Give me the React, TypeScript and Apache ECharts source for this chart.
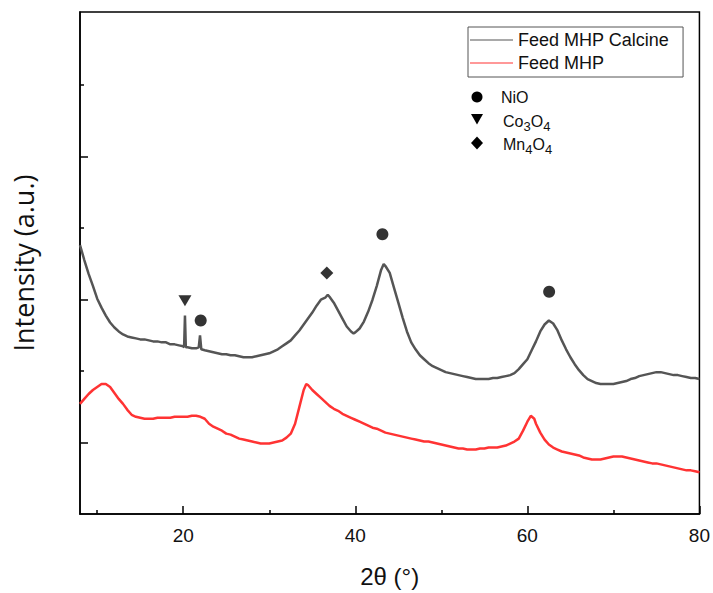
import React, { useEffect, useRef } from "react";
import * as echarts from "echarts";

// tick positions
const xMajorTicks = [20, 40, 60, 80];
const xMinorTicks = [10, 30, 50, 70];
const yMajorTicks = [71.5, 216, 360.5];
const yMinorTicks = [144, 288.5, 433];

// [2θ, intensity (a.u.)]
const calcine: number[][] = [
  [8, 271], [8.5, 256], [9, 242], [9.5, 230], [10, 217], [10.5, 208], [11, 200], [11.5, 193],
  [12, 188], [12.5, 184], [13, 181], [13.5, 179], [14, 178], [14.5, 177], [15, 176], [15.5, 176],
  [16, 175], [16.5, 174], [17, 174], [17.5, 173], [18, 173], [18.5, 171], [19, 171], [19.5, 170],
  [20, 169], [20.1, 168], [20.2, 200], [20.3, 168], [20.5, 168], [21, 167], [21.5, 167], [21.8, 168],
  [21.95, 180], [22.1, 166], [22.5, 165], [23, 164], [23.5, 163], [24, 162], [24.5, 161], [25, 161],
  [25.5, 160], [26, 160], [26.5, 159], [27, 158], [27.5, 158], [28, 158], [28.5, 159], [29, 160],
  [29.5, 161], [30, 162], [30.5, 164], [31, 166], [31.5, 169], [32, 172], [32.5, 175], [33, 180],
  [33.5, 185], [34, 191], [34.5, 197], [35, 203], [35.5, 210], [36, 216], [36.5, 218], [36.8, 221],
  [37, 219], [37.5, 213], [38, 205], [38.5, 197], [39, 189], [39.5, 184], [39.8, 182], [40, 183],
  [40.5, 187], [41, 194], [41.5, 204], [42, 216], [42.5, 230], [43, 246], [43.3, 252], [43.5, 250],
  [44, 243], [44.5, 228], [45, 213], [45.5, 198], [46, 184], [46.5, 173], [47, 166], [47.5, 160],
  [48, 156], [48.5, 152], [49, 149], [49.5, 147], [50, 145], [50.5, 143], [51, 142], [51.5, 141],
  [52, 140], [52.5, 139], [53, 138], [53.5, 137], [54, 136], [54.5, 136], [55, 136], [55.5, 136],
  [56, 137], [56.5, 137], [57, 138], [57.5, 139], [58, 140], [58.5, 142], [59, 146], [59.5, 151],
  [60, 156], [60.5, 165], [61, 174], [61.5, 184], [62, 191], [62.5, 195], [63, 192], [63.5, 185],
  [64, 175], [64.5, 166], [65, 158], [65.5, 151], [66, 145], [66.5, 140], [67, 136], [67.5, 134],
  [68, 132], [68.5, 131], [69, 131], [69.5, 131], [70, 131], [70.5, 132], [71, 133], [71.5, 134],
  [72, 136], [72.5, 137], [73, 139], [73.5, 140], [74, 141], [74.5, 142], [75, 143], [75.5, 143],
  [76, 142], [76.5, 141], [77, 140], [77.5, 140], [78, 139], [78.5, 138], [79, 137], [79.5, 137],
  [80, 136],
];

const feed: number[][] = [
  [8, 111], [8.5, 116], [9, 121], [9.5, 125], [10, 128], [10.5, 131], [11, 131], [11.5, 128],
  [12, 122], [12.5, 116], [13, 111], [13.5, 105], [14, 100], [14.5, 98], [15, 97], [15.5, 96],
  [16, 96], [16.5, 96], [17, 97], [17.5, 97], [18, 97], [18.5, 97], [19, 98], [19.5, 98],
  [20, 98], [20.5, 98], [21, 99], [21.5, 99], [22, 98], [22.5, 96], [23, 91], [23.5, 88],
  [24, 86], [24.5, 84], [25, 81], [25.5, 80], [26, 78], [26.5, 76], [27, 75], [27.5, 74],
  [28, 73], [28.5, 72], [29, 71], [29.5, 71], [30, 71], [30.5, 72], [31, 73], [31.5, 74],
  [32, 77], [32.5, 81], [33, 91], [33.5, 108], [34, 125], [34.3, 131], [34.5, 130], [35, 125],
  [35.5, 121], [36, 117], [36.5, 113], [37, 109], [37.5, 106], [38, 104], [38.5, 101], [39, 99],
  [39.5, 97], [40, 95], [40.5, 93], [41, 91], [41.5, 89], [42, 87], [42.5, 86], [43, 84],
  [43.5, 82], [44, 81], [44.5, 80], [45, 79], [45.5, 78], [46, 77], [46.5, 76], [47, 75],
  [47.5, 74], [48, 73], [48.5, 73], [49, 72], [49.5, 71], [50, 70], [50.5, 69], [51, 68],
  [51.5, 67], [52, 66], [52.5, 66], [53, 65], [53.5, 65], [54, 65], [54.5, 66], [55, 66],
  [55.5, 67], [56, 67], [56.5, 67], [57, 68], [57.5, 69], [58, 71], [58.5, 73], [59, 76],
  [59.5, 84], [60, 93], [60.4, 99], [60.8, 96], [61, 91], [61.5, 82], [62, 75], [62.5, 70],
  [63, 67], [63.5, 65], [64, 63], [64.5, 62], [65, 61], [65.5, 60], [66, 59], [66.5, 57],
  [67, 56], [67.5, 55], [68, 55], [68.5, 55], [69, 56], [69.5, 57], [70, 58], [70.5, 58],
  [71, 58], [71.5, 57], [72, 56], [72.5, 55], [73, 54], [73.5, 53], [74, 52], [74.5, 51],
  [75, 51], [75.5, 50], [76, 49], [76.5, 48], [77, 47], [77.5, 46], [78, 45], [78.5, 44],
  [79, 44], [79.5, 43], [80, 42],
];

// phase markers [2θ, height]
const nioMarks: number[][] = [[22.03, 195], [43.15, 282], [62.53, 224]];
const coMarks: number[][] = [[20.2, 215]];
const mnMarks: number[][] = [[36.69, 243]];

const seriesNames = ["Feed MHP Calcine", "Feed MHP"];

export default function App() {
  const ref = useRef<HTMLDivElement>(null);
  useEffect(() => {
    document.body.style.margin = "0";
    const chart = echarts.init(ref.current!, null, { renderer: "svg" });
    const tickLine = { color: "#000", width: 1.5 };
    chart.setOption({
      animation: false,
      grid: {
        left: 80, right: 13, top: 12, bottom: 75,
        show: true, borderColor: "#000", borderWidth: 1.5,
      },
      legend: {
        data: seriesNames,
        orient: "vertical",
        left: 468, top: 27,
        padding: [3, 14, 4, 2],
        itemGap: 3, itemWidth: 43, itemHeight: 1.2,
        icon: "rect",
        borderColor: "#555", borderWidth: 1,
        textStyle: { fontSize: 18, fontFamily: "Liberation Sans", color: "#111", lineHeight: 20 },
      },
      xAxis: [
        {
          type: "value", min: 8, max: 80, position: "bottom",
          axisLine: { show: true, lineStyle: tickLine },
          axisTick: { show: true, inside: true, length: 8, customValues: xMajorTicks, lineStyle: tickLine },
          axisLabel: { customValues: xMajorTicks, fontSize: 19, color: "#111", margin: 12, fontFamily: "Liberation Sans" },
          splitLine: { show: false },
          name: "2θ (°)", nameLocation: "middle", nameGap: 50,
          nameTextStyle: { fontSize: 24, fontFamily: "Liberation Sans", color: "#111" },
        },
        {
          type: "value", min: 8, max: 80, position: "bottom",
          axisLine: { show: false },
          axisTick: { show: true, inside: true, length: 4, customValues: xMinorTicks, lineStyle: tickLine },
          axisLabel: { show: false },
          splitLine: { show: false },
        },
      ],
      yAxis: [
        {
          type: "value", min: 0, max: 506, position: "left",
          axisLine: { show: true, lineStyle: tickLine },
          axisTick: { show: true, inside: true, length: 8, customValues: yMajorTicks, lineStyle: tickLine },
          axisLabel: { show: false },
          splitLine: { show: false },
          name: "Intensity (a.u.)", nameLocation: "middle", nameGap: 43,
          nameTextStyle: { fontSize: 27, fontFamily: "Open Sans", color: "#111" },
        },
        {
          type: "value", min: 0, max: 506, position: "left",
          axisLine: { show: false },
          axisTick: { show: true, inside: true, length: 4, customValues: yMinorTicks, lineStyle: tickLine },
          axisLabel: { show: false },
          splitLine: { show: false },
        },
      ],
      series: [
        {
          type: "line", name: seriesNames[0], data: calcine, symbol: "none",
          lineStyle: { color: "#555", width: 2.5 }, itemStyle: { color: "#555" }, z: 3,
        },
        {
          type: "line", name: seriesNames[1], data: feed, symbol: "none",
          lineStyle: { color: "#f33", width: 2.5 }, itemStyle: { color: "#f33" }, z: 3,
        },
        {
          type: "scatter", name: "NiO", data: nioMarks, symbol: "circle", symbolSize: 12,
          itemStyle: { color: "#000" }, z: 4,
        },
        {
          type: "scatter", name: "Co3O4", data: coMarks, symbol: "triangle", symbolRotate: 180, symbolSize: [13, 11],
          itemStyle: { color: "#000" }, z: 4,
        },
        {
          type: "scatter", name: "Mn4O4", data: mnMarks, symbol: "diamond", symbolSize: [13, 13],
          itemStyle: { color: "#000" }, z: 4,
        },
      ],
      graphic: [
        { type: "circle", shape: { cx: 477, cy: 97, r: 5.5 }, style: { fill: "#000" } },
        { type: "polygon", shape: { points: [[471, 114], [483, 114], [477, 124.5]] }, style: { fill: "#000" } },
        { type: "polygon", shape: { points: [[477, 136.5], [483, 143], [477, 149.5], [471, 143]] }, style: { fill: "#000" } },
        {
          type: "text", x: 501, y: 97,
          style: { text: "NiO", fontSize: 16, fontFamily: "Liberation Sans", fill: "#111", verticalAlign: "middle" },
        },
        {
          type: "text", x: 503, y: 121,
          style: {
            text: "Co{sub|3}O{sub|4}", fontSize: 16, lineHeight: 24, fontFamily: "Liberation Sans", fill: "#111",
            verticalAlign: "middle",
            rich: { sub: { fontSize: 13, fontFamily: "Liberation Sans", fill: "#111", verticalAlign: "bottom" } },
          },
        },
        {
          type: "text", x: 503, y: 144,
          style: {
            text: "Mn{sub|4}O{sub|4}", fontSize: 16, lineHeight: 24, fontFamily: "Liberation Sans", fill: "#111",
            verticalAlign: "middle",
            rich: { sub: { fontSize: 13, fontFamily: "Liberation Sans", fill: "#111", verticalAlign: "bottom" } },
          },
        },
      ],
    });
    return () => chart.dispose();
  }, []);
  return <div ref={ref} style={{ width: 713, height: 593 }} />;
}
